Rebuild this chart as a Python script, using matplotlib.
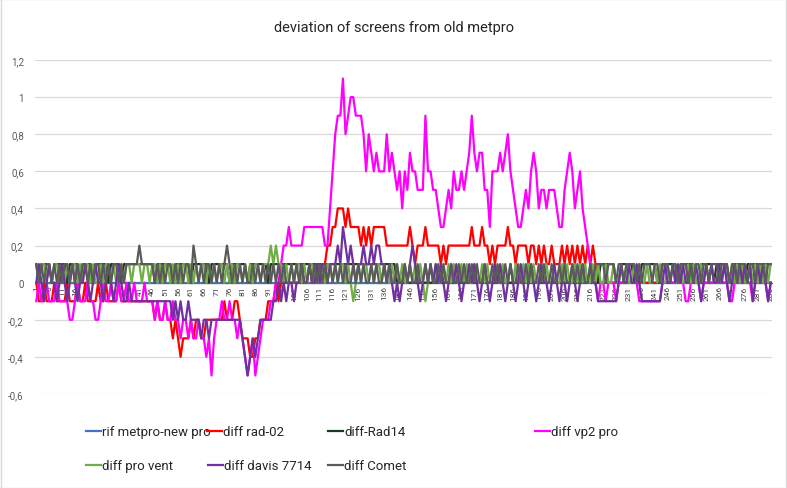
import matplotlib
matplotlib.use("Agg")
import matplotlib.pyplot as plt
import numpy as np
from matplotlib.ticker import FuncFormatter

plt.rcParams['font.family'] = ['Liberation Sans Narrow', 'Roboto', 'DejaVu Sans']

# values in tenths of a degree, one per reading (index 1..286)
rif_metpro_new_pro = [
    0, 0, 0, 0, 0, 0, 0, 0, 0, 0, 0, 0, 0, 0, 0, 0, 0, 0, 0, 0,
    0, 0, 0, 0, 0, 0, 0, 0, 0, 0, 0, 0, 0, 0, 0, 0, 0, 0, 0, 0,
    0, 0, 0, 0, 0, 0, 0, 0, 0, 0, 0, 0, 0, 0, 0, 0, 0, 0, 0, 0,
    0, 0, 0, 0, 0, 0, 0, 0, 0, 0, 0, 0, 0, 0, 0, 0, 0, 0, 0, 0,
    0, 0, 0, 0, 0, 0, 0, 0, 0, 0, 0, 0, 0, 0, 0, 0, 0, 0, 0, 0,
    0, 0, 0, 0, 0, 0, 0, 0, 0, 0, 0, 0, 0, 0, 0, 0, 0, 0, 0, 0,
    0, 0, 0, 0, 0, 0, 0, 0, 0, 0, 0, 0, 0, 0, 0, 0, 0, 0, 0, 0,
    0, 0, 0, 0, 0, 0, 0, 0, 0, 0, 0, 0, 0, 0, 0, 0, 0, 0, 0, 0,
    0, 0, 0, 0, 0, 0, 0, 0, 0, 0, 0, 0, 0, 0, 0, 0, 0, 0, 0, 0,
    0, 0, 0, 0, 0, 0, 0, 0, 0, 0, 0, 0, 0, 0, 0, 0, 0, 0, 0, 0,
    0, 0, 0, 0, 0, 0, 0, 0, 0, 0, 0, 0, 0, 0, 0, 0, 0, 0, 0, 0,
    0, 0, 0, 0, 0, 0, 0, 0, 0, 0, 0, 0, 0, 0, 0, 0, 0, 0, 0, 0,
    0, 0, 0, 0, 0, 0, 0, 0, 0, 0, 0, 0, 0, 0, 0, 0, 0, 0, 0, 0,
    0, 0, 0, 0, 0, 0, 0, 0, 0, 0, 0, 0, 0, 0, 0, 0, 0, 0, 0, 0,
    0, 0, 0, 0, 0, 0,
]

diff_rad02 = [
    0, -1, -1, 0, -1, -1, -1, 0, -1, -1,
    -1, -1, 0, -1, -1, -1, 0, -1, -1, 0,
    -1, -1, -1, -1, 0, -1, -1, 0, -1, -1,
    -1, -1, 0, -1, -1, -1, -1, -1, -1, -1,
    -1, -1, -1, -1, -1, -1, -2, -1, -2, -2,
    -1, -2, -2, -3, -2, -3, -4, -3, -3, -3,
    -2, -3, -2, -2, -3, -3, -2, -2, -2, -2,
    -2, -2, -2, -1, -2, -2, -2, -1, -1, -2,
    -3, -3, -3, -4, -4, -3, -3, -2, -2, -2,
    -1, -1, -1, 0, -1, 0, 0, 0, 0, 0,
    0, 0, 0, 0, 0, 0, 1, 0, 1, 1,
    1, 1, 1, 2, 2, 3, 3, 4, 4, 4,
    3, 4, 3, 3, 3, 3, 2, 3, 2, 3,
    2, 3, 3, 3, 3, 3, 2, 2, 2, 2,
    2, 2, 2, 2, 2, 3, 2, 1, 2, 2,
    2, 3, 2, 2, 2, 2, 2, 1, 2, 1,
    2, 2, 2, 2, 2, 2, 2, 2, 2, 3,
    2, 2, 2, 3, 2, 2, 1, 2, 1, 2,
    2, 2, 2, 3, 2, 2, 1, 2, 2, 2,
    2, 1, 2, 2, 1, 2, 1, 2, 1, 1,
    2, 1, 1, 1, 2, 1, 2, 1, 2, 1,
    2, 1, 2, 1, 2, 1, 2, 1, 0, 0,
    0, 0, 0, 0, 0, 0, 0, 0, 0, 0,
    0, 0, 0, 0, 0, 0, 0, 0, 0, 0,
    0, 0, 0, 0, 0, 0, 0, 0, 0, 0,
    0, 0, 0, 0, 0, 0, 0, 0, 0, 0,
    0, 0, 0, 0, 0, 0, 0, 0, 0, 0,
    0, 0, 1, 0, 0, 0, 0, 0, 0, 0,
    0, 0, 0, 0, 0, 0,
]

diff_rad14 = [
    1, 0, 1, 1, 1, 1, 0, 1, 1, 1,
    1, 1, 0, 1, 1, 1, 1, 0, 1, 1,
    1, 1, 0, 1, 1, 1, 1, 1, 0, 1,
    1, 1, 1, 0, 1, 1, 1, 1, 1, 1,
    1, 1, 1, 1, 1, 1, 0, 1, 1, 1,
    1, 1, 1, 0, 1, 1, 1, 1, 1, 1,
    0, 1, 1, 1, 1, 1, 1, 0, 1, 1,
    1, 1, 1, 1, 1, 0, 1, 1, 1, 1,
    1, 1, 0, 1, 1, 1, 1, 1, 1, 1,
    0, 1, 1, 1, 1, 1, 1, 1, 1, 1,
    1, 1, 1, 1, 1, 1, 1, 1, 1, 1,
    1, 1, 1, 1, 1, 1, 1, 1, 1, 1,
    1, 1, 1, 1, 1, 1, 1, 1, 1, 1,
    1, 1, 1, 1, 1, 1, 1, 1, 1, 1,
    0, 0, 0, 0, 0, 0, 0, 0, 0, 0,
    0, 0, 0, 0, 0, 0, 0, 0, 0, 0,
    0, 0, 0, 0, 0, 0, 0, 0, 0, 0,
    0, 0, 0, 0, 0, 0, 0, 0, 0, 0,
    0, 0, 0, 0, 0, 0, 0, 0, 0, 0,
    0, 0, 0, 0, 0, 0, 0, 0, 0, 0,
    0, 0, 0, 0, 0, 0, 0, 0, 0, 0,
    0, 0, 0, 0, 0, 0, 0, 0, 0, 1,
    1, 1, 1, 1, 1, 0, 0, 1, 1, 1,
    1, 1, 0, 0, 0, 1, 1, 1, 1, 1,
    1, 0, 0, 1, 1, 1, 1, 1, 1, 0,
    0, 1, 1, 1, 1, 1, 0, 0, 1, 1,
    1, 1, 1, 0, 1, 1, 1, 1, 1, 0,
    0, 1, 1, 1, 1, 0, 1, 1, 1, 1,
    1, 0, 1, 1, 1, 1,
]

diff_vp2_pro = [
    -1, 0, -1, -1, 0, -1, -1, -1, 0, -1,
    -1, -1, -1, -2, -2, -1, 0, -1, -1, -1,
    0, -1, -1, -2, -2, -1, 0, -1, -1, 0,
    -1, -1, 0, -1, -1, 0, -1, -1, 0, -1,
    -1, -1, 0, -1, -1, -1, -2, -1, -2, -2,
    -1, -2, -2, -1, -2, -2, -3, -2, -2, -3,
    -2, -3, -3, -2, -3, -3, -4, -3, -5, -3,
    -2, -2, -1, -2, -2, -1, -2, -2, -3, -2,
    -3, -4, -5, -4, -3, -5, -4, -3, -2, -2,
    -2, -1, -1, 0, 0, 1, 2, 2, 3, 2,
    2, 2, 2, 2, 3, 3, 3, 3, 3, 3,
    3, 3, 2, 2, 4, 6, 8, 9, 9, 11,
    8, 9, 10, 10, 9, 9, 9, 8, 6, 8,
    7, 6, 7, 6, 6, 6, 8, 6, 7, 6,
    5, 6, 4, 6, 5, 7, 6, 6, 5, 5,
    5, 9, 6, 6, 5, 5, 4, 3, 3, 4,
    5, 4, 6, 5, 5, 6, 5, 6, 7, 9,
    7, 6, 7, 7, 5, 5, 3, 6, 6, 6,
    7, 6, 7, 8, 6, 5, 4, 3, 3, 4,
    5, 4, 6, 7, 6, 4, 5, 5, 4, 5,
    5, 5, 4, 3, 3, 5, 6, 7, 6, 4,
    5, 6, 4, 3, 2, 1, 0, 0, -1, 0,
    0, -1, 0, 0, 0, -1, 0, 0, 0, 0,
    0, 0, 0, 0, -1, -1, -1, -1, -1, -1,
    -1, -1, -1, 0, 0, 0, 0, 0, 0, 0,
    0, 0, -1, -1, 0, 0, 0, 0, -1, 0,
    0, 0, 0, 0, 0, 0, 0, 0, 0, -1,
    -1, 0, 0, 0, 0, 0, 0, 0, -1, 0,
    0, 0, 0, 0, -1, 0,
]

diff_pro_vent = [
    1, 0, 1, 1, 0, 1, 0, 1, 1, 0,
    1, 0, 1, 0, 1, 1, 0, 1, 0, 1,
    1, 0, 1, 0, 0, 1, 0, 1, 1, 0,
    1, 0, 0, 1, 0, 1, 1, 0, 1, 1,
    1, 0, 1, 1, 0, 1, 1, 0, 1, 0,
    1, 1, 0, 1, 0, 1, 0, 1, 1, 0,
    1, 0, 1, 0, 1, 1, 0, 1, 0, 1,
    0, 1, 1, 0, 1, 0, 1, 0, 1, 1,
    0, 1, 0, 1, 0, 1, 1, 0, 1, 1,
    1, 2, 1, 2, 1, 1, 0, 1, 0, 1,
    0, 1, 1, 0, 1, 0, 1, 1, 0, 1,
    0, 1, 0, 1, 1, 0, 1, 0, 1, 1,
    0, 1, 0, -1, 0, 1, 0, 1, 1, 0,
    1, 0, 1, 1, 0, 1, 0, 0, 1, 0,
    1, 0, 1, 0, 0, 1, 0, 1, 0, 1,
    0, -1, 0, 1, 0, 1, 0, 0, 1, 0,
    1, 0, 1, 0, 0, 1, 0, 1, 0, 0,
    1, 0, 0, 1, 0, 1, 0, 0, 1, 0,
    0, 1, 0, 0, 1, 0, 1, 0, 0, 1,
    0, 1, 0, 1, 0, 0, 1, 0, 1, 0,
    0, 1, 0, 0, 1, 0, 1, 0, 0, 1,
    0, 1, 0, 1, 0, 0, 1, 0, 1, 0,
    0, 1, 0, 0, 1, 0, 0, 1, 0, 1,
    0, 0, 1, 0, 1, 0, 0, 1, 0, 0,
    1, 0, 1, 0, 0, 1, 0, 1, 0, 0,
    1, 0, 0, 1, 0, 1, 0, 0, 1, 0,
    1, 0, 1, 0, 0, 1, 0, 1, 0, 0,
    1, 0, 1, 0, 1, 0, 0, 1, 0, 1,
    0, 1, 0, 1, 0, 1,
]

diff_davis_7714 = [
    0, 1, 0, -1, 0, 1, 0, 0, -1, 0,
    1, 0, -1, 0, 1, 0, -1, 0, 0, 1,
    0, -1, 0, 1, 0, 0, -1, 0, 1, 0,
    -1, 0, 1, 0, -1, -1, 0, -1, -1, -1,
    -1, -1, -1, -1, -1, -1, -1, -1, -1, -1,
    -1, -1, -1, -2, -1, -2, -1, -2, -2, -1,
    -2, -2, -2, -2, -3, -2, -2, -3, -2, -2,
    -2, -2, -2, -2, -2, -2, -2, -2, -2, -2,
    -3, -4, -5, -4, -3, -4, -3, -2, -2, -2,
    -2, -2, -1, -1, 0, -1, 0, -1, 0, 0,
    -1, 0, 0, 1, 0, 0, 1, 0, 0, 1,
    0, 1, 1, 0, 1, 1, 1, 2, 1, 3,
    2, 1, 2, 1, 0, 1, 1, 2, 1, 1,
    2, 1, 2, 2, 1, 1, 0, 1, 0, -1,
    0, -1, 0, 1, 0, 1, 2, 1, 0, -1,
    0, 1, 0, 1, 0, 1, 0, 1, 0, -1,
    0, 1, 0, 1, 0, -1, 0, 0, 1, 0,
    1, 0, -1, 0, 1, 0, -1, 0, 1, 0,
    1, 0, -1, 0, 1, 0, -1, 0, 1, 0,
    -1, 0, 1, 0, -1, 0, 1, 0, 0, -1,
    0, 1, 0, -1, 0, 0, -1, 0, 1, 0,
    -1, 0, 1, 0, 0, 1, 0, 0, -1, -1,
    -1, -1, -1, -1, -1, -1, 0, 1, 0, 0,
    1, 0, 0, 1, 0, -1, -1, -1, -1, -1,
    -1, -1, -1, 0, 1, 0, 0, 1, 0, 1,
    0, 1, 0, 0, 1, 0, 1, 0, -1, 0,
    1, 0, 1, 0, 0, 1, 0, 1, 0, -1,
    0, 1, 0, 1, 0, 1, 0, 1, -1, 0,
    1, 0, 1, 0, -1, 0,
]

diff_comet = [
    1, 0, 1, 0, 1, 1, 0, 1, 0, 1,
    0, 1, 1, 0, 1, 0, 1, 0, 1, 1,
    0, 1, 0, 1, 1, 0, 1, 0, 1, 0,
    1, 1, 0, 1, 0, 1, 1, 1, 1, 1,
    2, 1, 1, 1, 1, 1, 0, 1, 0, 1,
    0, 1, 1, 0, 1, 0, 1, 0, 1, 1,
    0, 2, 1, 0, 1, 0, 1, 1, 0, 1,
    0, 1, 0, 1, 2, 1, 0, 1, 0, 1,
    0, 1, 0, 0, 1, 0, 1, 0, 1, 0,
    1, 0, 1, 0, 1, 0, 1, 0, 0, 1,
    0, 1, 0, 1, 0, 0, 1, 0, 1, 0,
    1, 0, 1, 0, 1, 0, 1, 0, 1, 0,
    1, 0, 0, 1, 0, 1, 0, 1, 0, 0,
    1, 0, 1, 0, 0, 1, 0, 1, 0, 0,
    1, 0, 0, 1, 0, 1, 0, 0, 1, 0,
    0, 1, 0, 1, 0, 0, 1, 0, 1, 0,
    0, 1, 0, 0, 1, 0, 1, 0, 0, 1,
    0, 1, 0, 0, 1, 0, 0, 1, 0, 1,
    0, 0, 1, 0, 1, 0, 0, 1, 0, 0,
    1, 0, 1, 0, 0, 1, 0, 1, 0, 0,
    1, 0, 0, 1, 0, 1, 0, 0, 1, 0,
    1, 0, 1, 0, 0, 1, 0, 1, 1, 1,
    1, 0, 1, 1, 1, 0, 1, 1, 0, 1,
    1, 1, 1, 0, 1, 0, 1, 1, 1, 0,
    1, 1, 0, 1, 1, 1, 0, 1, 1, 0,
    1, 1, 1, 0, 1, 0, 1, 1, 0, 1,
    1, 0, 1, 1, 1, 0, 1, 1, 1, 0,
    1, 1, 0, 1, 1, 1, 0, 1, 1, 0,
    1, 1, 1, 0, 1, 1,
]

series_names = ["rif metpro-new pro", "diff rad-02", "diff-Rad14", "diff vp2 pro",
                "diff pro vent", "diff davis 7714", "diff Comet"]
series_values = [rif_metpro_new_pro, diff_rad02, diff_rad14, diff_vp2_pro,
                 diff_pro_vent, diff_davis_7714, diff_comet]
series_colors = ["#4472C4", "#FF0000", "#1E3A1E", "#FF00FF",
                 "#70AD47", "#7030A0", "#5A5A5A"]

n = len(diff_rad02)
x = np.arange(1, n + 1)
tick_positions = list(range(1, n + 1, 5))
tick_labels = [str(t) for t in tick_positions]

fig = plt.figure(figsize=(7.87, 4.89), dpi=100)
ax = fig.add_axes([35 / 787, 1 - 395 / 489, (772 - 35) / 787, (395 - 61) / 489])

lines = []
for name, vals, col in zip(series_names, series_values, series_colors):
    ln, = ax.plot(x, np.array(vals) / 10.0, color=col, lw=1.6, label=name,
                  solid_joinstyle='round')
    lines.append(ln)

ax.set_xlim(0.5, n + 0.5)
ax.set_ylim(-0.6, 1.2)
ax.set_yticks(np.round(np.arange(-0.6, 1.21, 0.2), 1))
ax.yaxis.set_major_formatter(FuncFormatter(
    lambda v, p: ('%g' % round(v, 1)).replace('.', ',')))
ax.grid(axis='y', color='#D9D9D9', lw=0.9)
ax.set_axisbelow(True)
for s in ['top', 'right', 'left']:
    ax.spines[s].set_visible(False)
ax.spines['bottom'].set_position(('data', 0))
ax.spines['bottom'].set_color('#404040')
ax.spines['bottom'].set_zorder(0.5)
ax.set_xticks(tick_positions)
ax.set_xticklabels(tick_labels, rotation=90, fontsize=6, color='#404040')
ax.tick_params(axis='x', length=0, pad=2)
ax.tick_params(axis='y', length=0, pad=8, labelsize=7, labelcolor='#595959')

fig.text(0.5, 1 - 28 / 489, "deviation of screens from old metpro", ha='center',
         va='center', fontsize=10.5, color='#262626')

legend_pos = [(86, 433), (207, 433), (328, 433), (535, 433),
              (86, 467), (208, 467), (328, 467)]
for ln, (px, py) in zip(lines, legend_pos):
    fig.legend(handles=[ln], loc='center left',
               bbox_to_anchor=(px / 787, 1 - py / 489),
               frameon=False, fontsize=9.5, handlelength=1.1, handletextpad=0.15,
               borderpad=0, borderaxespad=0, labelcolor='#262626')

fig.patches.append(plt.Rectangle((0.001, 0.001), 0.998, 0.998, transform=fig.transFigure,
                                 fill=False, edgecolor='#D9D9D9', lw=1))

fig.savefig("out.png", dpi=100)
